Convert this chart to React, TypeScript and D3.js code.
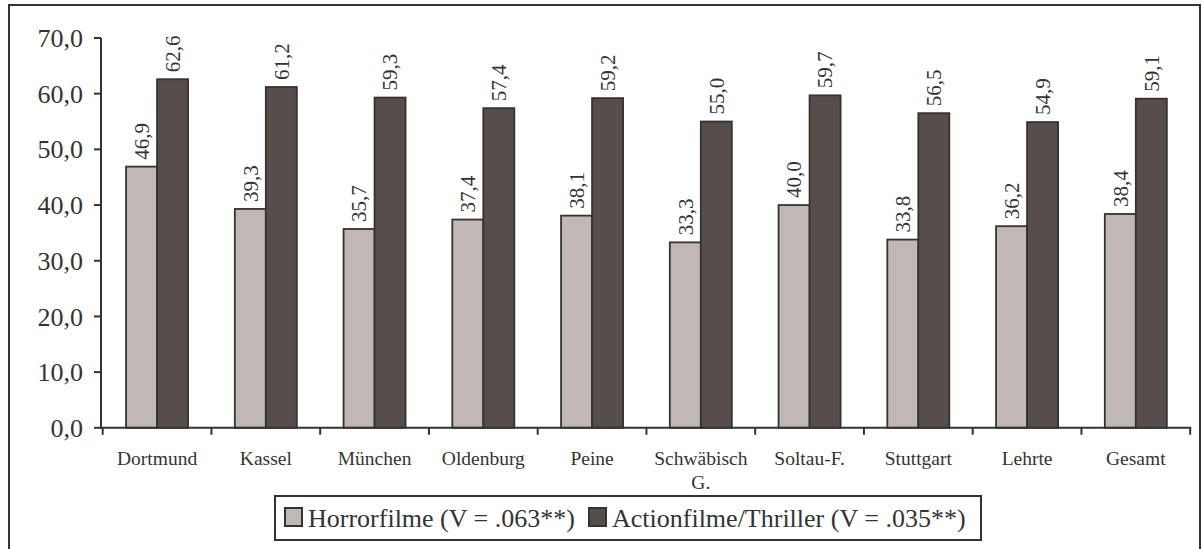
import React from "react";
import * as d3 from "d3";

const categories = ["Dortmund", "Kassel", "München", "Oldenburg", "Peine", "Schwäbisch G.", "Soltau-F.", "Stuttgart", "Lehrte", "Gesamt"];
const categoryLines = [["Dortmund"], ["Kassel"], ["München"], ["Oldenburg"], ["Peine"], ["Schwäbisch", "G."], ["Soltau-F."], ["Stuttgart"], ["Lehrte"], ["Gesamt"]];
const horror = [46.9, 39.3, 35.7, 37.4, 38.1, 33.3, 40.0, 33.8, 36.2, 38.4];
const action = [62.6, 61.2, 59.3, 57.4, 59.2, 55.0, 59.7, 56.5, 54.9, 59.1];
const yTicks = [0, 10, 20, 30, 40, 50, 60, 70];
const seriesNames = ["Horrorfilme (V = .063**)", "Actionfilme/Thriller (V = .035**)"];

const W = 1202;
const H = 549;
const FONT = "'Liberation Serif', 'Times New Roman', serif";
const TXT = "#333";
const STROKE = "#333";
const LIGHT = "#c1b8b5";
const DARK = "#574e4b";

const fmt = (v: number) => v.toFixed(1).replace(".", ",");

export default function App() {
  const x0 = 102.7;
  const x1 = 1190.2;
  const x = d3.scaleBand<string>().domain(categories).range([x0, x1]).padding(0);
  const y = d3.scaleLinear().domain([0, 70]).range([427.8, 38]);
  const barW = 31;
  const series = [horror, action];
  const colors = [LIGHT, DARK];

  return (
    <svg width={W} height={H} style={{ position: "absolute", left: 0, top: 0, background: "#fff" }} fontFamily={FONT}>
      <rect x={0} y={0} width={W} height={H} fill="#fff" />
      {/* outer frame */}
      <rect x={9} y={5} width={1191} height={620} fill="none" stroke={STROKE} strokeWidth={2} />

      {/* bars */}
      {categories.map((c, i) => {
        const cx = (x(c) as number) + x.bandwidth() / 2;
        return (
          <g key={c}>
            {series.map((s, k) => {
              const bx = cx - barW + k * barW;
              const by = y(s[i]);
              return (
                <g key={k}>
                  <rect x={bx} y={by} width={barW} height={y(0) - by} fill={colors[k]} stroke={STROKE} strokeWidth={1.8} />
                  <text
                    transform={`translate(${bx + barW / 2},${by - 7}) rotate(-90)`}
                    dy="0.35em"
                    fontSize={21}
                    fill={TXT}
                    textAnchor="start"
                  >
                    {fmt(s[i])}
                  </text>
                </g>
              );
            })}
          </g>
        );
      })}

      {/* y axis */}
      <line x1={101} x2={101} y1={y(70)} y2={y(0)} stroke={STROKE} strokeWidth={2} />
      {yTicks.map((t) => (
        <g key={t}>
          <line x1={94} x2={101} y1={y(t)} y2={y(t)} stroke={STROKE} strokeWidth={2} />
          <text x={83} y={y(t)} dy="0.35em" textAnchor="end" fontSize={26} fill={TXT}>
            {fmt(t)}
          </text>
        </g>
      ))}

      {/* x axis */}
      <line x1={100} x2={x1 + 1} y1={y(0)} y2={y(0)} stroke={STROKE} strokeWidth={2} />
      {categories.map((c) => (
        <line key={c} x1={x(c) as number} x2={x(c) as number} y1={y(0)} y2={y(0) + 7} stroke={STROKE} strokeWidth={2} />
      ))}
      <line x1={x1} x2={x1} y1={y(0)} y2={y(0) + 7} stroke={STROKE} strokeWidth={2} />
      {categories.map((c, i) => {
        const cx = (x(c) as number) + x.bandwidth() / 2;
        return (
          <text key={c} x={cx} y={465} textAnchor="middle" fontSize={19.5} fill={TXT}>
            {categoryLines[i].map((ln, j) => (
              <tspan key={j} x={cx} dy={j === 0 ? 0 : 24}>
                {ln}
              </tspan>
            ))}
          </text>
        );
      })}

      {/* legend */}
      <rect x={275} y={496} width={706} height={44} fill="#fff" stroke={STROKE} strokeWidth={2} />
      <rect x={285} y={508} width={17} height={18} fill={LIGHT} stroke={STROKE} strokeWidth={2} />
      <text x={308} y={527} fontSize={26} fill={TXT}>{seriesNames[0]}</text>
      <rect x={589} y={508} width={17} height={18} fill={DARK} stroke={STROKE} strokeWidth={2} />
      <text x={612} y={527} fontSize={26} fill={TXT}>{seriesNames[1]}</text>
    </svg>
  );
}
